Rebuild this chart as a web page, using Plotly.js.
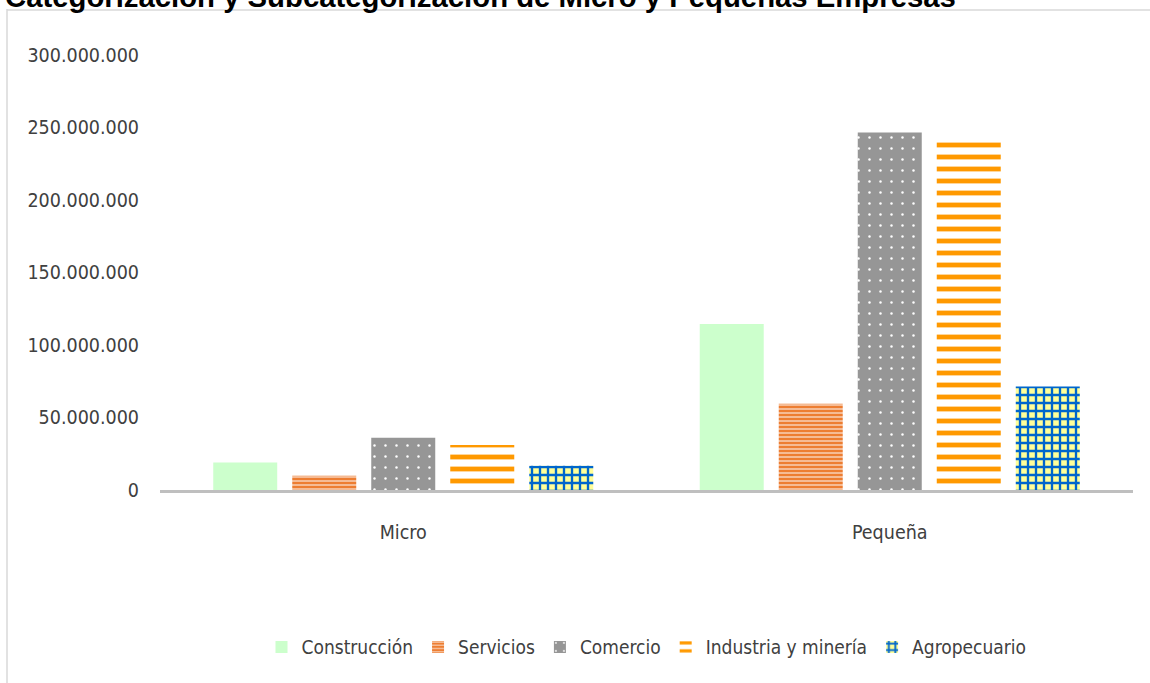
<!DOCTYPE html>
<html>
<head>
<meta charset="utf-8">
<script src="https://cdn.plot.ly/plotly-3.0.1.min.js"></script>
<style>html,body{margin:0;padding:0;background:#fff;}#chart{width:1150px;height:683px;}</style>
</head>
<body>
<div id="chart"></div>
<script>
var categories = ["Micro", "Pequeña"];
var seriesNames = ["Construcción", "Servicios", "Comercio", "Industria y minería", "Agropecuario"];
var construccion = [19000000, 114500000];
var servicios = [9800000, 59500000];
var comercio = [36000000, 246500000];
var industria = [31000000, 242500000];
var agropecuario = [16800000, 71300000];
var yTickVals = [0, 50000000, 100000000, 150000000, 200000000, 250000000, 300000000];
var titleText = "Categorización y Subcategorización de Micro y Pequeñas Empresas";

var FONT = "'DejaVu Sans Condensed', 'DejaVu Sans', sans-serif";

var styles = [
  {color: "#CCFFCC", pattern: {shape: ""}},
  {color: "#ED7D31", pattern: {shape: "-", fgcolor: "#F8CBAD", bgcolor: "#ED7D31", size: 4, solidity: 0.4, fillmode: "replace"}},
  {color: "#969696", pattern: {shape: ".", fgcolor: "#FFFFFF", bgcolor: "#969696", size: 11, solidity: 0.04, fillmode: "replace"}},
  {color: "#FF9900", pattern: {shape: "-", fgcolor: "#FF9900", bgcolor: "#FFFFFF", size: 12, solidity: 0.4, fillmode: "replace"}},
  {color: "#FFFF99", pattern: {shape: "+", fgcolor: "#0066CC", bgcolor: "#FFFF99", size: 8, solidity: 0.5, fillmode: "replace"}}
];
var values = [construccion, servicios, comercio, industria, agropecuario];

var data = seriesNames.map(function(name, i) {
  return {
    type: "bar",
    name: name,
    x: categories,
    y: values[i],
    marker: {color: styles[i].color, pattern: styles[i].pattern, line: {width: 0}},
    hoverinfo: "x+y+name"
  };
});

var layout = {
  width: 1150,
  height: 683,
  margin: {l: 160, r: 17, t: 55, b: 193},
  paper_bgcolor: "#FFFFFF",
  plot_bgcolor: "#FFFFFF",
  separators: ",.",
  barmode: "group",
  bargap: 0.188,
  bargroupgap: 0.19,
  showlegend: true,
  title: {
    text: "<b>" + titleText + "</b>",
    font: {family: "'Liberation Sans', Arial, sans-serif", size: 29.3, color: "#000000"},
    x: 5 / 1150, xanchor: "left", xref: "container",
    y: 1 - 7 / 683, yanchor: "bottom", yref: "container"
  },
  xaxis: {
    type: "category",
    showgrid: false,
    zeroline: false,
    showline: true,
    linecolor: "#BFBFBF",
    linewidth: 3,
    ticks: "",
    ticklabelstandoff: 23,
    tickfont: {family: FONT, size: 19.5, color: "#404040"}
  },
  yaxis: {
    range: [0, 300000000],
    tickvals: yTickVals,
    tickformat: ",d",
    showgrid: false,
    zeroline: false,
    showline: false,
    ticks: "",
    ticklabelstandoff: 20,
    tickfont: {family: FONT, size: 19.5, color: "#404040"}
  },
  legend: {
    orientation: "h",
    x: 0.5, xanchor: "center",
    y: -0.361, yanchor: "middle",
    font: {family: FONT, size: 19, color: "#404040"},
    itemwidth: 30,
    tracegroupgap: 0
  },
  shapes: [
    {type: "line", xref: "paper", yref: "paper",
     x0: (7 - 160) / 973, x1: (7 - 160) / 973, y0: (490 - 9) / 435, y1: (490 - 700) / 435,
     line: {color: "#D9D9D9", width: 1.5}},
    {type: "line", xref: "paper", yref: "paper",
     x0: (7 - 160) / 973, x1: (1160 - 160) / 973, y0: (490 - 10) / 435, y1: (490 - 10) / 435,
     line: {color: "#D9D9D9", width: 1.5}}
  ]
};

Plotly.newPlot("chart", data, layout, {displayModeBar: false, staticPlot: true});
</script>
</body>
</html>
